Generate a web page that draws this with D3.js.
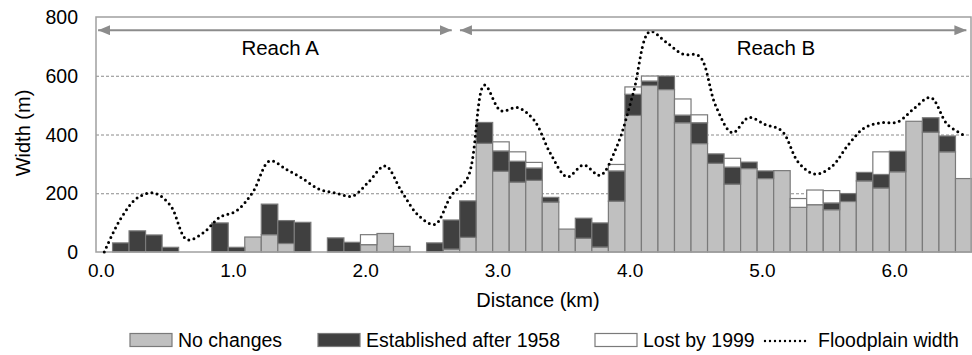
<!DOCTYPE html>
<html>
<head>
<meta charset="utf-8">
<script src="https://cdn.jsdelivr.net/npm/d3@7/dist/d3.min.js"></script>
<style>
  html, body { margin: 0; padding: 0; background: #fff; }
  svg text { font-family: "Liberation Sans", Arial, sans-serif; fill: #000; }
</style>
</head>
<body>
<svg id="chart" width="972" height="355"></svg>
<script>
// distance along the river (km), one bar every 125 m
const distances = [0, 0.125, 0.25, 0.375, 0.5, 0.625, 0.75, 0.875, 1, 1.125, 1.25, 1.375, 1.5, 1.625,
  1.75, 1.875, 2, 2.125, 2.25, 2.375, 2.5, 2.625, 2.75, 2.875, 3, 3.125, 3.25, 3.375, 3.5, 3.625,
  3.75, 3.875, 4, 4.125, 4.25, 4.375, 4.5, 4.625, 4.75, 4.875, 5, 5.125, 5.25, 5.375, 5.5, 5.625,
  5.75, 5.875, 6, 6.125, 6.25, 6.375, 6.5];

const noChanges = [0, 0, 0, 0, 0, 0, 0, 0, 0, 51, 59, 29, 0, 0, 0, 0, 25, 63, 19, 0, 0, 10, 50, 370,
  275, 238, 244, 170, 78, 47, 17, 173, 465, 567, 553, 440, 369, 302, 231, 284, 250, 277, 152, 161,
  144, 172, 242, 218, 273, 445, 408, 341, 250];

const established = [0, 31, 72, 58, 16, 0, 0, 99, 16, 0, 104, 78, 101, 0, 48, 33, 0, 0, 0, 0, 31, 99,
  124, 71, 69, 71, 42, 16, 0, 68, 82, 103, 72, 15, 46, 26, 71, 32, 58, 22, 26, 0, 0, 0, 23, 27, 29,
  46, 70, 0, 49, 54, 0];

const lost = [0, 0, 0, 0, 0, 0, 0, 0, 0, 0, 0, 0, 0, 0, 0, 0, 34, 0, 0, 0, 0, 0, 0, 0, 31, 32, 19, 0,
  0, 0, 0, 22, 25, 17, 0, 55, 27, 0, 30, 0, 0, 0, 30, 50, 42, 0, 0, 77, 0, 0, 0, 0, 0];

const floodplain = [0, 114, 184, 201, 159, 42, 66, 119, 140, 205, 310, 282, 250, 214, 201, 190, 239,
  293, 205, 125, 94, 193, 255, 568, 481, 492, 449, 335, 256, 296, 261, 358, 540, 750, 714, 674, 667,
  497, 406, 458, 434, 412, 305, 265, 290, 364, 423, 440, 443, 489, 526, 435, 398];

const xTicks = [0, 1, 2, 3, 4, 5, 6];
const yTicks = [0, 200, 400, 600, 800];

const seriesKeys = ["noChanges", "established", "lost"];
const seriesNames = ["No changes", "Established after 1958", "Lost by 1999", "Floodplain width"];
const seriesColors = ["#c0c0c0", "#404040", "#ffffff"];

// reaches: [start km, end km], label position km
const reachNames = ["Reach A", "Reach B"];
const reachSpans = [[-0.047, 2.628], [2.69, 6.52]];
const reachLabelAt = [1.33, 5.08];

const svg = d3.select("#chart");
const plotLeft = 96, plotRight = 972, plotTop = 17, plotBottom = 252;

const rows = distances.map((d, i) => ({
  dist: d, noChanges: noChanges[i], established: established[i], lost: lost[i]
}));

const x = d3.scaleBand().domain(distances).range([plotLeft, plotRight]).paddingInner(0).paddingOuter(0);
const bw = x.bandwidth();
const xKm = d3.scaleLinear().domain([0, 6.5]).range([x(0) + bw / 2, x(6.5) + bw / 2]);
const y = d3.scaleLinear().domain([0, 800]).range([plotBottom, plotTop]);

// gridlines
svg.append("g")
  .selectAll("line")
  .data(yTicks.filter(t => t > 0 && t < 800))
  .enter().append("line")
  .attr("x1", plotLeft).attr("x2", plotRight - 1)
  .attr("y1", d => y(d) + 0.5).attr("y2", d => y(d) + 0.5)
  .attr("stroke", "#8a8a8a")
  .attr("stroke-width", 1)
  .attr("stroke-dasharray", "3,2");

// stacked bars
const stacked = d3.stack().keys(seriesKeys)(rows);
svg.append("g")
  .selectAll("g")
  .data(stacked)
  .enter().append("g")
  .attr("fill", (d, i) => seriesColors[i])
  .selectAll("rect")
  .data(d => d.filter(s => s[1] - s[0] > 0))
  .enter().append("rect")
  .attr("x", d => x(d.data.dist))
  .attr("y", d => y(d[1]))
  .attr("width", bw)
  .attr("height", d => y(d[0]) - y(d[1]))
  .attr("stroke", "#7a7a7a")
  .attr("stroke-width", 1.2);

// frame
svg.append("rect")
  .attr("x", plotLeft).attr("y", plotTop)
  .attr("width", plotRight - 1 - plotLeft).attr("height", plotBottom - plotTop)
  .attr("fill", "none")
  .attr("stroke", "#a0a0a0")
  .attr("stroke-width", 1.5);

// floodplain line
const line = d3.line()
  .x((d, i) => x(distances[i]) + bw / 2)
  .y(d => y(d))
  .curve(d3.curveCatmullRom.alpha(0.5));

svg.append("path")
  .datum(floodplain)
  .attr("d", line)
  .attr("fill", "none")
  .attr("stroke", "#000")
  .attr("stroke-width", 3)
  .attr("stroke-linecap", "round")
  .attr("stroke-dasharray", "0,5.3");

// reach arrows
const defs = svg.append("defs");
["start", "end"].forEach(k => {
  defs.append("marker")
    .attr("id", "arrow-" + k)
    .attr("viewBox", "0 0 12 10")
    .attr("refX", k === "end" ? 12 : 0).attr("refY", 5)
    .attr("markerWidth", 12).attr("markerHeight", 10)
    .attr("markerUnits", "userSpaceOnUse")
    .attr("orient", "auto")
    .append("path")
    .attr("d", k === "end" ? "M0,0L12,5L0,10Z" : "M12,0L0,5L12,10Z")
    .attr("fill", "#8c8c8c");
});

const reachY = y(755);
const reaches = svg.append("g");
reachSpans.forEach((s, i) => {
  reaches.append("line")
    .attr("x1", xKm(s[0])).attr("x2", xKm(s[1]))
    .attr("y1", reachY).attr("y2", reachY)
    .attr("stroke", "#8c8c8c")
    .attr("stroke-width", 2)
    .attr("marker-start", "url(#arrow-start)")
    .attr("marker-end", "url(#arrow-end)");
  reaches.append("text")
    .attr("x", xKm(reachLabelAt[i]))
    .attr("y", 55)
    .attr("text-anchor", "middle")
    .attr("font-size", 20.5)
    .text(reachNames[i]);
});

// axes labels
svg.append("g")
  .selectAll("text")
  .data(yTicks)
  .enter().append("text")
  .attr("x", 78)
  .attr("y", d => y(d))
  .attr("dy", "0.36em")
  .attr("text-anchor", "end")
  .attr("font-size", 19.5)
  .text(d => d);

svg.append("g")
  .selectAll("text")
  .data(xTicks)
  .enter().append("text")
  .attr("x", d => xKm(d))
  .attr("dx", -3)
  .attr("y", 277)
  .attr("text-anchor", "middle")
  .attr("font-size", 19)
  .text(d => d3.format(".1f")(d));

svg.append("text")
  .attr("x", 538).attr("y", 307)
  .attr("text-anchor", "middle")
  .attr("font-size", 20)
  .text("Distance (km)");

svg.append("text")
  .attr("transform", "translate(30,133) rotate(-90)")
  .attr("text-anchor", "middle")
  .attr("font-size", 20)
  .text("Width (m)");

// legend
const legendX = [130, 318, 595, 762];
const legend = svg.append("g").attr("transform", "translate(0,340)");
seriesNames.forEach((name, i) => {
  const g = legend.append("g").attr("transform", "translate(" + legendX[i] + ",0)");
  if (i < 3) {
    g.append("rect")
      .attr("x", 0).attr("y", -6.5)
      .attr("width", 42).attr("height", 13)
      .attr("fill", seriesColors[i])
      .attr("stroke", "#7a7a7a")
      .attr("stroke-width", 1.2);
  } else {
    g.append("line")
      .attr("x1", 3).attr("x2", 48)
      .attr("y1", 1).attr("y2", 1)
      .attr("stroke", "#000")
      .attr("stroke-width", 2.4)
      .attr("stroke-linecap", "round")
      .attr("stroke-dasharray", "0,5");
  }
  g.append("text")
    .attr("x", i < 3 ? 48 : 56)
    .attr("y", 0)
    .attr("dy", "0.36em")
    .attr("font-size", 19.5)
    .text(name);
});
</script>
</body>
</html>
